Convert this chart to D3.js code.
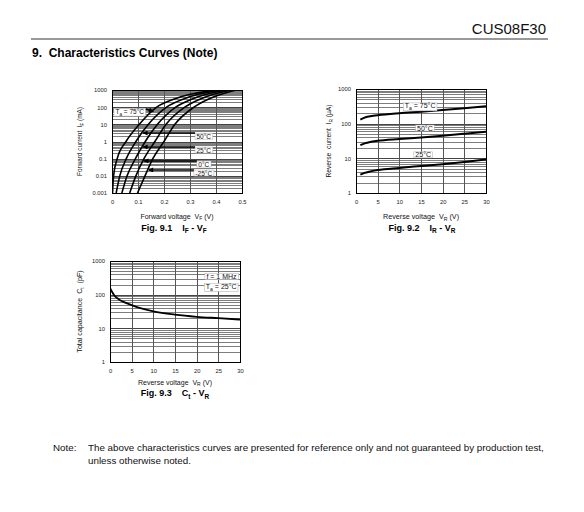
<!DOCTYPE html>
<html>
<head>
<meta charset="utf-8">
<script src="https://cdn.jsdelivr.net/npm/d3@7"></script>
<style>
body { margin: 0; background: #fff; }
svg { font-family: "Liberation Sans", Arial, sans-serif; }
text { white-space: pre; }
</style>
</head>
<body>
<div class="viz"></div>
<script>
// Fig 9.1 IF - VF : forward current levels (mA) and forward voltage (V) per temperature
var ifCurrents = [0.001, 0.01, 0.1, 1, 10, 100, 300, 1000];
var vf75  = [0.002, 0.006, 0.020, 0.054, 0.105, 0.172, 0.240, 0.400];
var vf50  = [0.016, 0.030, 0.055, 0.092, 0.140, 0.210, 0.275, 0.420];
var vf25  = [0.038, 0.058, 0.090, 0.128, 0.175, 0.245, 0.308, 0.440];
var vf0   = [0.068, 0.092, 0.123, 0.165, 0.208, 0.280, 0.340, 0.458];
var vfm25 = [0.098, 0.127, 0.157, 0.200, 0.242, 0.315, 0.372, 0.478];
var vfTicks = [0, 0.1, 0.2, 0.3, 0.4, 0.5];
var vfTickLabels = ["0", "0.1", "0.2", "0.3", "0.4", "0.5"];
var ifTicks = [0.001, 0.01, 0.1, 1, 10, 100, 1000];
var ifTickLabels = ["0.001", "0.01", "0.1", "1", "10", "100", "1000"];

// Fig 9.2 IR - VR : reverse current (uA)
var vrPoints = [1, 2, 3, 5, 10, 15, 20, 25, 30];
var ir75 = [130, 150, 162, 175, 200, 222, 248, 278, 320];
var ir50 = [24, 27, 29, 32, 36, 40, 45, 51, 58];
var ir25 = [3.4, 3.8, 4.1, 4.6, 5.3, 6.0, 6.8, 7.9, 9.3];

// Fig 9.3 Ct - VR : total capacitance (pF)
var ctVoltage = [0, 0.5, 1, 2, 3, 5, 7, 10, 15, 20, 25, 30];
var ctPf = [160, 120, 95, 73, 62, 49, 40, 32, 25.5, 22, 20, 18.2];

var vrTicks = [0, 5, 10, 15, 20, 25, 30];
var vrTickLabels = ["0", "5", "10", "15", "20", "25", "30"];
var decadeTicks = [1, 10, 100, 1000];
var decadeTickLabels = ["1", "10", "100", "1000"];

var svg = d3.select(".viz")
    .append("svg")
    .attr("width", 584)
    .attr("height", 512);

svg.append("rect").attr("width", 584).attr("height", 512).attr("fill", "#fff");

// arrow head
svg.append("defs").append("marker")
    .attr("id", "arrow")
    .attr("viewBox", "0 0 10 10")
    .attr("refX", 9).attr("refY", 5)
    .attr("markerUnits", "userSpaceOnUse")
    .attr("markerWidth", 6).attr("markerHeight", 5)
    .attr("orient", "auto")
    .append("path")
    .attr("d", "M0,0 L10,5 L0,10 z")
    .attr("fill", "#000");

// text with subscripts
function richText(text, parts, size) {
    var shifted = false;
    parts.forEach(function(p) {
        var t = text.append("tspan").text(p.t);
        if (p.sub) {
            t.attr("font-size", size * 0.72).attr("dy", size * 0.28);
            shifted = true;
        } else {
            t.attr("font-size", size);
            if (shifted) { t.attr("dy", -size * 0.28); shifted = false; }
        }
    });
    return text;
}

// white box behind a label
function boxLabel(g, x, y, parts, size, anchor) {
    var t = g.append("text")
        .attr("x", x).attr("y", y)
        .attr("dy", "0.35em")
        .attr("text-anchor", anchor || "middle")
        .attr("fill", "#111");
    richText(t, parts, size);
    var b = t.node().getBBox();
    g.insert("rect", function() { return t.node(); })
        .attr("x", b.x - 1.5).attr("y", b.y + 0.5)
        .attr("width", b.width + 3).attr("height", b.height - 1)
        .attr("fill", "#fff")
        .attr("stroke", "#aaa")
        .attr("stroke-width", 0.5);
    return b;
}

var panelCount = 0;
function drawPanel(p) {
    panelCount++;
    var xScale = d3.scaleLinear().domain(p.xDomain).range([0, p.width]);
    var yScale = d3.scaleLog().domain(p.yDomain).range([p.height, 0]);

    var g = svg.append("g")
        .attr("transform", "translate(" + p.left + "," + p.top + ")");

    g.append("clipPath").attr("id", "clip" + panelCount)
        .append("rect").attr("width", p.width).attr("height", p.height);

    // minor log grid
    var minor = [];
    var lo = Math.round(Math.log10(p.yDomain[0])), hi = Math.round(Math.log10(p.yDomain[1]));
    for (var e = lo; e < hi; e++) {
        for (var k = 2; k < 10; k++) minor.push(k * Math.pow(10, e));
    }
    g.selectAll(".minor")
        .data(minor)
        .enter()
        .append("line")
        .attr("x1", 0).attr("x2", p.width)
        .attr("y1", d => Math.round(yScale(d)) + 0.5)
        .attr("y2", d => Math.round(yScale(d)) + 0.5)
        .attr("stroke", "#7e7e7e")
        .attr("stroke-width", 1)
        .attr("shape-rendering", "crispEdges");

    g.selectAll(".major")
        .data(p.yTicks)
        .enter()
        .append("line")
        .attr("x1", 0).attr("x2", p.width)
        .attr("y1", d => Math.round(yScale(d)) + 0.5)
        .attr("y2", d => Math.round(yScale(d)) + 0.5)
        .attr("stroke", "#444")
        .attr("shape-rendering", "crispEdges");

    g.selectAll(".vgrid")
        .data(p.xTicks)
        .enter()
        .append("line")
        .attr("y1", 0).attr("y2", p.height)
        .attr("x1", d => Math.round(xScale(d)) + 0.5)
        .attr("x2", d => Math.round(xScale(d)) + 0.5)
        .attr("stroke", "#555")
        .attr("shape-rendering", "crispEdges");

    // axes
    var xAxis = d3.axisBottom(xScale)
        .tickValues(p.xTicks)
        .tickSize(0)
        .tickPadding(7)
        .tickFormat((d, i) => p.xLabels[i]);
    var yAxis = d3.axisLeft(yScale)
        .tickValues(p.yTicks)
        .tickSize(0)
        .tickPadding(5)
        .tickFormat((d, i) => p.yLabels[i]);

    g.append("g")
        .attr("transform", "translate(0," + p.height + ")")
        .call(xAxis)
        .attr("font-family", null).attr("font-size", 5.8)
        .call(a => a.select(".domain").remove());
    g.append("g")
        .call(yAxis)
        .attr("font-family", null).attr("font-size", 5.8)
        .call(a => a.select(".domain").remove());
    g.selectAll(".tick text").attr("fill", "#222");

    // axis titles
    var xt = g.append("text")
        .attr("x", p.width / 2).attr("y", p.height + p.xTitleGap)
        .attr("text-anchor", "middle").attr("fill", "#111");
    richText(xt, p.xTitle, p.xTitleSize);

    var yt = g.append("text")
        .attr("transform", "translate(" + (-p.yTitleGap) + "," + (p.height / 2) + ") rotate(-90)")
        .attr("text-anchor", "middle").attr("fill", "#111");
    richText(yt, p.yTitle, p.yTitleSize);

    // caption
    var cap = g.append("text")
        .attr("x", p.width / 2 + (p.capShift || 0)).attr("y", p.height + p.capGap)
        .attr("text-anchor", "middle")
        .attr("font-weight", "bold")
        .attr("fill", "#000");
    richText(cap, p.caption, 9);

    var inner = g.append("g").attr("clip-path", "url(#clip" + panelCount + ")");

    return { g: g, inner: inner, xScale: xScale, yScale: yScale, frame: function() {
        g.append("rect")
            .attr("x", 0.5).attr("y", 0.5)
            .attr("width", p.width).attr("height", p.height)
            .attr("fill", "none")
            .attr("stroke", "#000")
            .attr("shape-rendering", "crispEdges");
    } };
}

// header
svg.append("text")
    .attr("x", 546).attr("y", 33.5)
    .attr("text-anchor", "end")
    .attr("font-size", 15)
    .attr("fill", "#111")
    .text("CUS08F30");
svg.append("line")
    .attr("x1", 31).attr("x2", 548)
    .attr("y1", 39).attr("y2", 39)
    .attr("stroke", "#777")
    .attr("stroke-width", 1.5);
svg.append("text")
    .attr("x", 32).attr("y", 56.5)
    .attr("font-size", 12)
    .attr("font-weight", "bold")
    .attr("fill", "#000")
    .text("9.  Characteristics Curves (Note)");

// ---------- Fig 9.1 ----------
var p1 = drawPanel({
    left: 112, top: 90, width: 130, height: 103,
    xDomain: [0, 0.5], yDomain: [0.001, 1000],
    xTicks: vfTicks, xLabels: vfTickLabels,
    yTicks: ifTicks, yLabels: ifTickLabels,
    xTitleGap: 25.5, yTitleGap: 30, capGap: 37.5, capShift: -3,
    xTitleSize: 7, yTitleSize: 6.4,
    xTitle: [{t: "Forward voltage  V"}, {t: "F", sub: true}, {t: " (V)"}],
    yTitle: [{t: "Forward current  I"}, {t: "F", sub: true}, {t: " (mA)"}],
    caption: [{t: "Fig. 9.1    I"}, {t: "F", sub: true}, {t: " - V"}, {t: "F", sub: true}]
});

var ifSeries = [
    { name: "75", v: vf75 },
    { name: "50", v: vf50 },
    { name: "25", v: vf25 },
    { name: "0", v: vf0 },
    { name: "-25", v: vfm25 }
];

var ifLine = d3.line()
    .x(d => p1.xScale(d[0]))
    .y(d => p1.yScale(d[1]))
    .curve(d3.curveMonotoneX);

p1.inner.selectAll(".if-curve")
    .data(ifSeries)
    .enter()
    .append("path")
    .attr("d", s => ifLine(s.v.map((v, i) => [v, ifCurrents[i]])))
    .attr("fill", "none")
    .attr("stroke", "#000")
    .attr("stroke-width", 1.6);

p1.frame();

// voltage on a curve at a given current (log interpolation)
function vAt(series, current) {
    var lc = Math.log10(current);
    for (var i = 0; i < ifCurrents.length - 1; i++) {
        var a = Math.log10(ifCurrents[i]), b = Math.log10(ifCurrents[i + 1]);
        if (lc >= a && lc <= b) return series[i] + (series[i + 1] - series[i]) * (lc - a) / (b - a);
    }
    return series[series.length - 1];
}

// labels with arrows
var tempLabels = [
    { series: vf50, text: "50°C", at: 3.1 },
    { series: vf25, text: "25°C", at: 0.48 },
    { series: vf0, text: "0°C", at: 0.074 },
    { series: vfm25, text: "-25°C", at: 0.022 }
];
tempLabels.forEach(function(l) {
    var y = p1.yScale(l.at);
    var b = boxLabel(p1.g, p1.xScale(0.353), y, [{t: l.text}], 6.5);
    p1.g.append("line")
        .attr("x1", b.x - 1.5).attr("y1", y)
        .attr("x2", p1.xScale(vAt(l.series, l.at)) + 1).attr("y2", y)
        .attr("stroke", "#000").attr("stroke-width", 1.5)
        .attr("marker-end", "url(#arrow)");
});

var b75 = boxLabel(p1.g, p1.xScale(0.068), p1.yScale(87),
    [{t: "T"}, {t: "a", sub: true}, {t: " = 75°C"}], 6.5);
p1.g.append("line")
    .attr("x1", b75.x + b75.width + 1.5).attr("y1", p1.yScale(79))
    .attr("x2", p1.xScale(vAt(vf75, 56)) + 1).attr("y2", p1.yScale(56))
    .attr("stroke", "#000").attr("stroke-width", 1.5)
    .attr("marker-end", "url(#arrow)");

// ---------- Fig 9.2 ----------
var p2 = drawPanel({
    left: 356, top: 89, width: 130, height: 104,
    xDomain: [0, 30], yDomain: [1, 1000],
    xTicks: vrTicks, xLabels: vrTickLabels,
    yTicks: decadeTicks, yLabels: decadeTickLabels,
    xTitleGap: 25.5, yTitleGap: 25, capGap: 37.5, capShift: 1,
    xTitleSize: 7.2, yTitleSize: 6.7,
    xTitle: [{t: "Reverse voltage  V"}, {t: "R", sub: true}, {t: " (V)"}],
    yTitle: [{t: "Reverse  current  I"}, {t: "R", sub: true}, {t: " (µA)"}],
    caption: [{t: "Fig. 9.2    I"}, {t: "R", sub: true}, {t: " - V"}, {t: "R", sub: true}]
});

var irLine = d3.line()
    .x(d => p2.xScale(d[0]))
    .y(d => p2.yScale(d[1]))
    .curve(d3.curveMonotoneX);

p2.inner.selectAll(".ir-curve")
    .data([ir75, ir50, ir25])
    .enter()
    .append("path")
    .attr("d", s => irLine(s.map((v, i) => [vrPoints[i], v])))
    .attr("fill", "none")
    .attr("stroke", "#000")
    .attr("stroke-width", 2);

boxLabel(p2.g, p2.xScale(14.8), p2.yScale(400), [{t: "T"}, {t: "a", sub: true}, {t: " = 75°C"}], 7);
boxLabel(p2.g, p2.xScale(15.9), p2.yScale(92), [{t: "50°C"}], 7);
boxLabel(p2.g, p2.xScale(15.5), p2.yScale(15.5), [{t: "25°C"}], 7);
p2.frame();

// ---------- Fig 9.3 ----------
var p3 = drawPanel({
    left: 110, top: 261, width: 130, height: 101,
    xDomain: [0, 30], yDomain: [1, 1000],
    xTicks: vrTicks, xLabels: vrTickLabels,
    yTicks: decadeTicks, yLabels: decadeTickLabels,
    xTitleGap: 22.5, yTitleGap: 28, capGap: 34, capShift: 0,
    xTitleSize: 7, yTitleSize: 7.1,
    xTitle: [{t: "Reverse voltage  V"}, {t: "R", sub: true}, {t: " (V)"}],
    yTitle: [{t: "Total capacitance  C"}, {t: "t", sub: true}, {t: "  (pF)"}],
    caption: [{t: "Fig. 9.3    C"}, {t: "t", sub: true}, {t: " - V"}, {t: "R", sub: true}]
});

var ctLine = d3.line()
    .x(d => p3.xScale(d[0]))
    .y(d => p3.yScale(d[1]))
    .curve(d3.curveMonotoneX);

p3.inner.append("path")
    .attr("d", ctLine(ctPf.map((v, i) => [ctVoltage[i], v])))
    .attr("fill", "none")
    .attr("stroke", "#000")
    .attr("stroke-width", 1.8);

boxLabel(p3.g, p3.xScale(29.2), p3.yScale(431), [{t: "f = 1 MHz"}], 7, "end");
boxLabel(p3.g, p3.xScale(29.2), p3.yScale(218), [{t: "T"}, {t: "a", sub: true}, {t: " = 25°C"}], 7, "end");
p3.frame();

// note
svg.append("text")
    .attr("x", 53).attr("y", 451)
    .attr("font-size", 9.8).attr("fill", "#111")
    .text("Note:");
svg.append("text")
    .attr("x", 88).attr("y", 451)
    .attr("font-size", 9.8).attr("fill", "#111")
    .text("The above characteristics curves are presented for reference only and not guaranteed by production test,");
svg.append("text")
    .attr("x", 88).attr("y", 464)
    .attr("font-size", 9.8).attr("fill", "#111")
    .text("unless otherwise noted.");
</script>
</body>
</html>
